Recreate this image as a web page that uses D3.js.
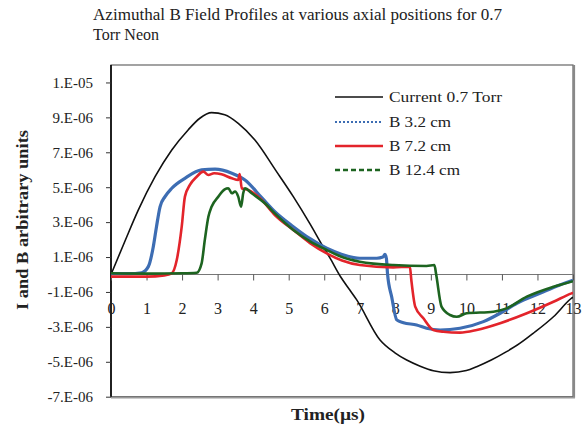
<!DOCTYPE html>
<html>
<head>
<meta charset="utf-8">
<script src="https://cdn.jsdelivr.net/npm/d3@7"></script>
<style>
  body { margin: 0; background: #fff; }
  svg text { font-family: "Liberation Serif", "Times New Roman", serif; fill: #222; }
</style>
</head>
<body>
<svg id="chart" width="584" height="433"></svg>
<script>
// values, in units of 1e-6
var UNIT = 1e-6

var tCurrent = [0, 0.4, 0.77, 1.24, 1.71, 2.17, 2.5, 2.83, 3.2, 3.58, 4.05, 4.64, 5.13, 5.6, 5.97, 6.16, 6.46, 6.72, 6.91, 7.57, 8.0, 8.32, 8.7, 9.07, 9.54, 10.0, 10.29, 10.7, 11.13, 11.5, 11.88, 12.45, 12.96, 13]
var vCurrent = [0, 1.95, 3.7, 5.6, 7.13, 8.28, 8.95, 9.27, 9.15, 8.66, 7.7, 5.95, 4.46, 2.9, 1.59, 0.95, -0.13, -0.89, -1.44, -3.75, -4.5, -4.9, -5.25, -5.51, -5.62, -5.5, -5.28, -4.9, -4.42, -3.95, -3.37, -2.42, -1.36, -1.3]

var tB32 = [0, 0.5, 0.86, 1.05, 1.19, 1.28, 1.38, 1.52, 1.71, 2.08, 2.55, 2.93, 3.4, 3.77, 4.24, 4.61, 5.13, 5.6, 6.07, 6.5, 7.0, 7.48, 7.65, 7.71, 7.75, 7.78, 7.9, 8.04, 8.23, 8.6, 8.88, 9.26, 9.82, 10.48, 10.95, 11.42, 12.07, 12.63, 12.96, 13]
var vB32 = [0.05, 0.05, 0.1, 0.45, 1.59, 2.74, 3.88, 4.46, 4.94, 5.51, 5.99, 6.03, 5.8, 5.41, 4.4, 3.6, 2.74, 2.05, 1.5, 1.15, 0.93, 0.93, 1.0, 1.15, 0.9, 0.07, -1.3, -2.6, -2.76, -2.89, -3.08, -3.18, -3.08, -2.7, -2.22, -1.65, -1.08, -0.6, -0.36, -0.33]

var tB72 = [0, 1.0, 1.5, 1.71, 1.85, 1.99, 2.08, 2.22, 2.41, 2.6, 2.74, 2.9, 3.11, 3.4, 3.58, 3.62, 3.68, 3.86, 4.24, 4.61, 5.13, 5.6, 6.07, 6.5, 7.0, 7.94, 8.41, 8.45, 8.56, 8.79, 9.07, 9.35, 9.82, 10.29, 10.95, 11.7, 12.45, 12.96, 13]
var vB72 = [-0.12, -0.12, -0.05, 0.07, 0.83, 2.74, 4.46, 5.13, 5.6, 5.89, 5.7, 5.8, 5.74, 5.51, 5.41, 5.75, 4.94, 4.84, 4.27, 3.41, 2.55, 1.8, 1.21, 0.8, 0.54, 0.41, 0.45, -0.3, -1.84, -2.51, -3.18, -3.28, -3.33, -3.18, -2.79, -2.22, -1.56, -1.08, -1.05]

var tB124 = [0, 1.0, 2.0, 2.41, 2.55, 2.64, 2.74, 2.83, 3.02, 3.2, 3.3, 3.4, 3.49, 3.58, 3.66, 3.72, 3.77, 3.96, 4.33, 4.61, 5.13, 5.6, 6.07, 6.5, 7.0, 7.94, 8.88, 9.1, 9.15, 9.3, 9.54, 9.73, 10.01, 10.76, 11.13, 11.7, 12.45, 12.96, 13]
var vB124 = [0.07, 0.05, 0.07, 0.1, 0.64, 1.98, 3.31, 3.88, 4.46, 4.88, 4.94, 4.65, 4.75, 4.46, 3.88, 4.65, 4.94, 4.65, 4.08, 3.5, 2.55, 1.9, 1.4, 1.0, 0.73, 0.54, 0.49, 0.54, 0.0, -1.84, -2.32, -2.42, -2.22, -2.13, -1.94, -1.27, -0.7, -0.41, -0.38]

var seriesNames = ['Current 0.7 Torr', 'B 3.2 cm', 'B 7.2 cm', 'B 12.4 cm']
var seriesColors = ['#111111', '#3d6db3', '#e3242b', '#1d6420']
var xTicks = [0, 1, 2, 3, 4, 5, 6, 7, 8, 9, 10, 11, 12, 13]
var yTicks = [-7, -5, -3, -1, 1, 3, 5, 7, 9, 11].map(function(v) { return v * UNIT })

var svg = d3.select('#chart')
var plotL = 111, plotR = 573, plotT = 65, plotB = 396.7

var x = d3.scaleLinear().domain([0, 13]).range([plotL, plotR])
var y = d3.scaleLinear().domain([-7e-6, 12e-6]).range([plotB, plotT])

// Excel style "0.E+00"
function sciFmt(v) {
  var sign = v < 0 ? '-' : ''
  var a = Math.abs(v)
  var e = Math.floor(Math.log10(a) + 1e-9)
  var m = Math.round(a / Math.pow(10, e))
  if (m >= 10) { m = 1; e += 1 }
  var es = (e < 0 ? '-' : '+') + String(Math.abs(e)).padStart(2, '0')
  return sign + m + '.E' + es
}

// title
svg.append('text').attr('x', 93).attr('y', 20).style('font-size', '16px')
  .attr('textLength', 409).attr('lengthAdjust', 'spacingAndGlyphs')
  .text('Azimuthal B Field Profiles at various axial positions for 0.7')
svg.append('text').attr('x', 93).attr('y', 40).style('font-size', '16px')
  .attr('textLength', 66).attr('lengthAdjust', 'spacingAndGlyphs')
  .text('Torr Neon')

// plot frame
svg.append('rect').attr('x', plotL).attr('y', plotT)
  .attr('width', plotR - plotL).attr('height', plotB - plotT)
  .attr('fill', 'none').attr('stroke', '#666').attr('stroke-width', 1.2)
svg.append('line').attr('x1', plotR + 1).attr('x2', plotR + 1).attr('y1', plotT).attr('y2', plotB + 1)
  .attr('stroke', '#888').attr('stroke-width', 2.2)
svg.append('line').attr('x1', plotL).attr('x2', plotR + 2).attr('y1', plotB + 1).attr('y2', plotB + 1)
  .attr('stroke', '#999').attr('stroke-width', 1.6)

// y axis
var yAxis = d3.axisLeft(y).tickValues(yTicks).tickSize(5).tickPadding(13).tickFormat(sciFmt)
var gy = svg.append('g').attr('transform', 'translate(' + plotL + ',0)').call(yAxis)
gy.select('.domain').attr('stroke', '#000').attr('stroke-width', 1.6).attr('d', 'M0,' + plotT + 'V' + plotB)
gy.selectAll('.tick line').attr('stroke', '#333')
gy.selectAll('.tick text').style('font-size', '15px').style('font-family', '"Liberation Serif", serif').attr('fill', '#333')

// x axis crossing at zero, labels lower down
var xAxis = d3.axisBottom(x).tickValues(xTicks).tickSize(6).tickPadding(22).tickFormat(d3.format('d'))
var gx = svg.append('g').attr('transform', 'translate(0,' + y(0) + ')').call(xAxis)
gx.select('.domain').attr('stroke', '#777').attr('stroke-width', 1.2).attr('d', 'M' + plotL + ',0H' + plotR)
gx.selectAll('.tick line').attr('stroke', '#555')
gx.selectAll('.tick text').style('font-size', '16px').style('font-family', '"Liberation Serif", serif').attr('fill', '#333')

// axis titles
svg.append('text').attr('x', 328).attr('y', 420).attr('text-anchor', 'middle')
  .style('font-size', '16px').style('font-weight', 'bold')
  .attr('textLength', 74).attr('lengthAdjust', 'spacingAndGlyphs')
  .text('Time(\u00b5s)')
svg.append('text').attr('transform', 'translate(28,220) rotate(-90)').attr('text-anchor', 'middle')
  .style('font-size', '16px').style('font-weight', 'bold')
  .attr('textLength', 180).attr('lengthAdjust', 'spacingAndGlyphs')
  .text('I and B arbitrary units')

// curves
svg.append('clipPath').attr('id', 'clip').append('rect')
  .attr('x', plotL).attr('y', plotT).attr('width', plotR - plotL).attr('height', plotB - plotT)

var series = [
  {t: tCurrent, v: vCurrent, w: 1.6},
  {t: tB32, v: vB32, w: 3.2},
  {t: tB72, v: vB72, w: 2.6},
  {t: tB124, v: vB124, w: 2.6}
]

var line = d3.line()
  .x(function(d) { return x(d[0]) })
  .y(function(d) { return y(d[1] * UNIT) })
  .curve(d3.curveMonotoneX)

var plot = svg.append('g').attr('clip-path', 'url(#clip)')
series.forEach(function(s, i) {
  var pts = s.t.map(function(t, k) { return [t, s.v[k]] })
  plot.append('path').datum(pts)
    .attr('d', line)
    .attr('fill', 'none')
    .attr('stroke', seriesColors[i])
    .attr('stroke-width', s.w)
    .attr('stroke-linejoin', 'round')
})

// legend
var legendY = [97, 122, 146, 170]
var legendLen = [113, 62, 62, 71]
var dashes = [null, '2,2', null, '5,3']
var legendW = [1.5, 2, 2.6, 2.6]
var lg = svg.append('g')
seriesNames.forEach(function(name, i) {
  lg.append('line').attr('x1', 335).attr('x2', 383)
    .attr('y1', legendY[i]).attr('y2', legendY[i])
    .attr('stroke', seriesColors[i]).attr('stroke-width', legendW[i])
    .attr('stroke-dasharray', dashes[i])
  lg.append('text').attr('x', 389).attr('y', legendY[i] + 5)
    .style('font-size', '15.5px')
    .attr('textLength', legendLen[i]).attr('lengthAdjust', 'spacingAndGlyphs')
    .text(name)
})
</script>
</body>
</html>
